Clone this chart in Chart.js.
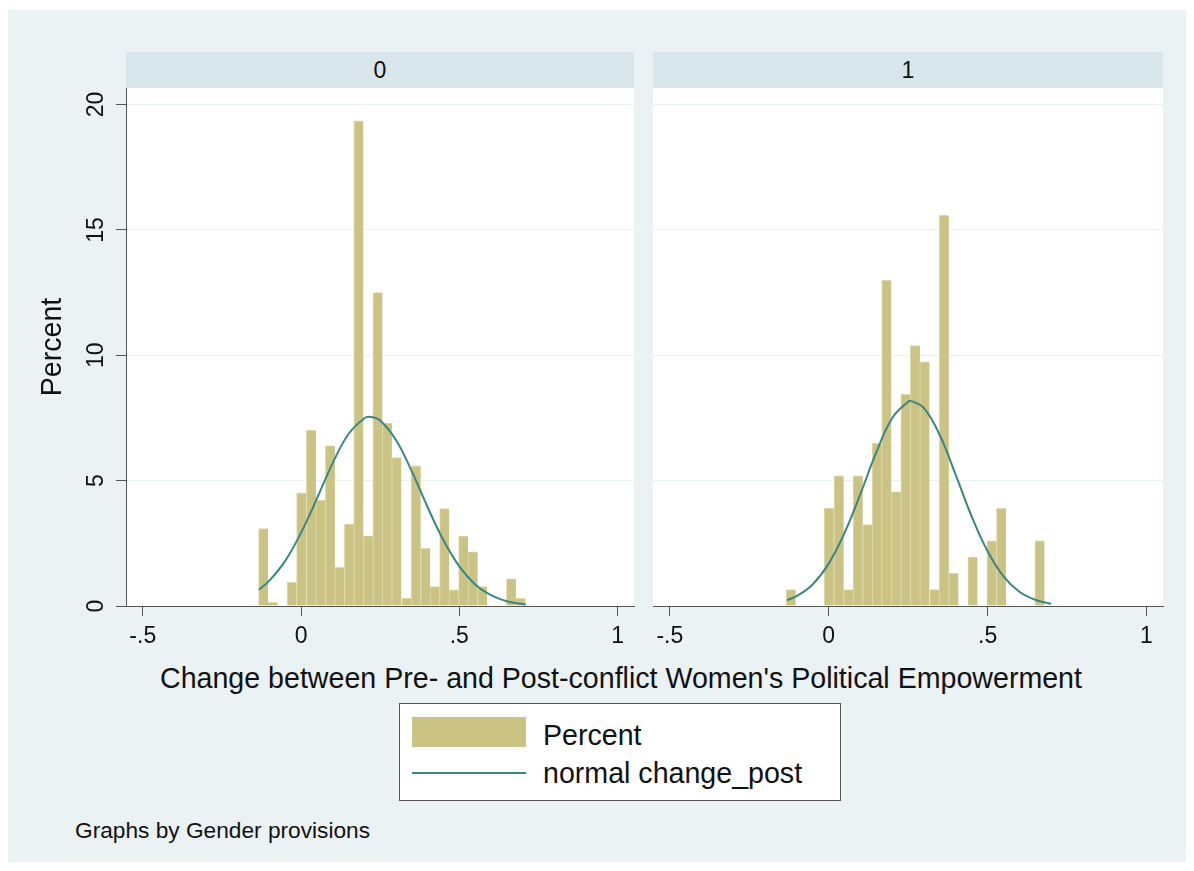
<!DOCTYPE html>
<html>
<head>
<meta charset="utf-8">
<script src="https://cdn.jsdelivr.net/npm/chart.js@4.4.0/dist/chart.umd.min.js"></script>
<style>
  body { margin:0; width:1194px; height:871px; background:#fff; font-family:"Liberation Sans", Arial, sans-serif; color:#111; overflow:hidden; }
  #frame { position:absolute; left:8px; top:10px; width:1178px; height:852px; background:#EAF2F3; }
  .strip { position:absolute; top:52px; height:36px; background:#D9E6EB; font-size:23px; text-align:center; line-height:36px; }
  .plot { position:absolute; top:88px; height:518px; background:#fff; }
  canvas { position:absolute; }
  #xtitle { position:absolute; left:100px; width:1042px; top:661px; font-size:28.6px; line-height:34px; text-align:center; white-space:nowrap; }
  #legend { position:absolute; left:399px; top:703px; width:442px; height:98px; box-sizing:border-box; background:#fff; border:1px solid #555; }
  #legend .sw { position:absolute; left:12px; width:114px; }
  #legend .lab { position:absolute; left:143px; font-size:28.6px; line-height:34px; white-space:nowrap; }
  #note { position:absolute; left:75px; top:817px; font-size:22.7px; line-height:26px; white-space:nowrap; }
</style>
</head>
<body>
<div id="frame"></div>
<div class="strip" style="left:126px;width:508px;">0</div>
<div class="strip" style="left:653px;width:510px;">1</div>
<div class="plot" style="left:126px;width:508px;"></div>
<div class="plot" style="left:653px;width:510px;"></div>
<canvas id="panel0" width="645" height="560" style="left:0;top:88px;"></canvas>
<canvas id="panel1" width="535" height="560" style="left:645px;top:88px;"></canvas>
<div id="xtitle">Change between Pre- and Post-conflict Women's Political Empowerment</div>
<div id="legend">
  <div class="sw" id="swBar" style="top:13px;height:30px;"></div>
  <div class="lab" style="top:14px;">Percent</div>
  <div class="sw" id="swLine" style="top:68px;height:2px;"></div>
  <div class="lab" style="top:52px;">normal change_post</div>
</div>
<div id="note">Graphs by Gender provisions</div>

<script>
// histogram bin midpoints (same bins in both panels)
const BIN_MID = [-0.119, -0.089, -0.059, -0.029, 0.001, 0.032, 0.062, 0.092, 0.122, 0.152,
  0.182, 0.212, 0.242, 0.272, 0.302, 0.333, 0.363, 0.393, 0.423, 0.453,
  0.483, 0.513, 0.543, 0.573, 0.603, 0.634, 0.664, 0.694];

// percent per bin, gender provisions = 0
const PCT_0 = [3.09, 0.15, 0, 0.94, 4.51, 7.01, 4.22, 6.39, 1.54, 3.27,
  19.35, 2.80, 12.5, 7.3, 5.92, 0.31, 5.59, 2.3, 0.77, 3.89,
  0.64, 2.79, 2.16, 0.77, 0, 0, 1.08, 0.31];

// percent per bin, gender provisions = 1
const PCT_1 = [0.65, 0, 0, 0, 3.90, 5.19, 0.65, 5.19, 3.25, 6.49,
  12.99, 4.55, 8.44, 10.39, 9.74, 0.65, 15.58, 1.30, 0, 1.95,
  0, 2.60, 3.90, 0, 0, 0, 2.60];

// normal overlay
const CURVE_X_0 = [-0.133, -0.1, -0.05, 0, 0.05, 0.1, 0.15, 0.2, 0.22, 0.25, 0.3, 0.35, 0.4, 0.45, 0.5, 0.55, 0.6, 0.65, 0.71];
const CURVE_Y_0 = [0.65, 1.01, 1.80, 2.92, 4.28, 5.70, 6.86, 7.49, 7.54, 7.40, 6.62, 5.37, 3.94, 2.62, 1.58, 0.86, 0.43, 0.19, 0.06];
const CURVE_X_1 = [-0.131, -0.1, -0.05, 0, 0.05, 0.1, 0.15, 0.2, 0.25, 0.26, 0.3, 0.35, 0.4, 0.45, 0.5, 0.55, 0.6, 0.65, 0.70];
const CURVE_Y_1 = [0.23, 0.40, 0.87, 1.69, 2.92, 4.48, 6.14, 7.50, 8.15, 8.17, 7.89, 6.80, 5.22, 3.57, 2.18, 1.18, 0.57, 0.25, 0.09];

const X_TICKS = [-0.5, 0, 0.5, 1];
const X_TICK_LABELS = ["-.5", "0", ".5", "1"];
const Y_TICKS = [0, 5, 10, 15, 20];
const Y_TICK_LABELS = ["0", "5", "10", "15", "20"];

const BAR = "#CAC383";
const BAR_EDGE = "#DCD8A9";
const CURVE = "#3B8780";
const AXIS = "#555";
const GRID = "#EAF2F3";
const FONT = "'Liberation Sans', Arial, sans-serif";

document.getElementById("swBar").style.background = BAR;
document.getElementById("swLine").style.background = CURVE;

const pts = (xs, ys) => xs.map((x, i) => ({ x, y: ys[i] }));

function xScale(){
  return {
    type: "linear", min: -0.553, max: 1.052, offset: false,
    afterBuildTicks: (s) => { s.ticks = X_TICKS.map(v => ({ value: v })); },
    afterFit: (s) => { s.height = 42; s.paddingLeft = 0; s.paddingRight = 0; },
    grid: { offset: false, drawOnChartArea: false, drawTicks: true, tickLength: 10, tickColor: AXIS, tickWidth: 1 },
    border: { display: true, color: AXIS, width: 1 },
    ticks: { padding: 7, color: "#111", autoSkip: false, maxRotation: 0,
      font: { family: FONT, size: 23 }, callback: (v, i) => X_TICK_LABELS[i] }
  };
}

function yScale(showAxis){
  return {
    type: "linear", min: 0, max: 20.66,
    afterBuildTicks: (s) => { s.ticks = Y_TICKS.map(v => ({ value: v })); },
    afterFit: (s) => { s.width = showAxis ? 126 : 0; s.paddingTop = 0; s.paddingBottom = 0; },
    grid: { color: (c) => c.tick && c.tick.value === 0 ? "rgba(0,0,0,0)" : GRID, lineWidth: 1,
      drawTicks: showAxis, tickLength: 10, tickColor: AXIS, tickWidth: 1 },
    border: { display: showAxis, color: AXIS, width: 1 },
    title: { display: showAxis, text: "Percent", color: "#111", font: { family: FONT, size: 28.6 }, padding: { top: 36 } },
    ticks: { display: showAxis, padding: 7, color: "#111", minRotation: 90, maxRotation: 90, crossAlign: "center",
      font: { family: FONT, size: 23 }, callback: (v, i) => Y_TICK_LABELS[i] }
  };
}

function makePanel(id, pct, cx, cy, showAxis, pad){
  return new Chart(document.getElementById(id), {
    type: "bar",
    data: {
      datasets: [
        { type: "line", label: "normal change_post", data: pts(cx, cy), order: 0,
          borderColor: CURVE, borderWidth: 2, pointRadius: 0, tension: 0.4, fill: false },
        { type: "bar", label: "Percent", data: pts(BIN_MID.slice(0, pct.length), pct), order: 1,
          backgroundColor: BAR, borderColor: BAR_EDGE, borderWidth: { left: 1, right: 0, top: 1, bottom: 0 },
          barPercentage: 1, categoryPercentage: 1 }
      ]
    },
    options: {
      responsive: false, animation: false, devicePixelRatio: 1,
      layout: { padding: pad },
      plugins: { legend: { display: false }, tooltip: { enabled: false } },
      scales: { x: xScale(), y: yScale(showAxis) }
    }
  });
}

makePanel("panel0", PCT_0, CURVE_X_0, CURVE_Y_0, true, { left: 0, right: 11, top: 0, bottom: 0 });
makePanel("panel1", PCT_1, CURVE_X_1, CURVE_Y_1, false, { left: 8, right: 17, top: 0, bottom: 0 });
</script>
</body>
</html>
